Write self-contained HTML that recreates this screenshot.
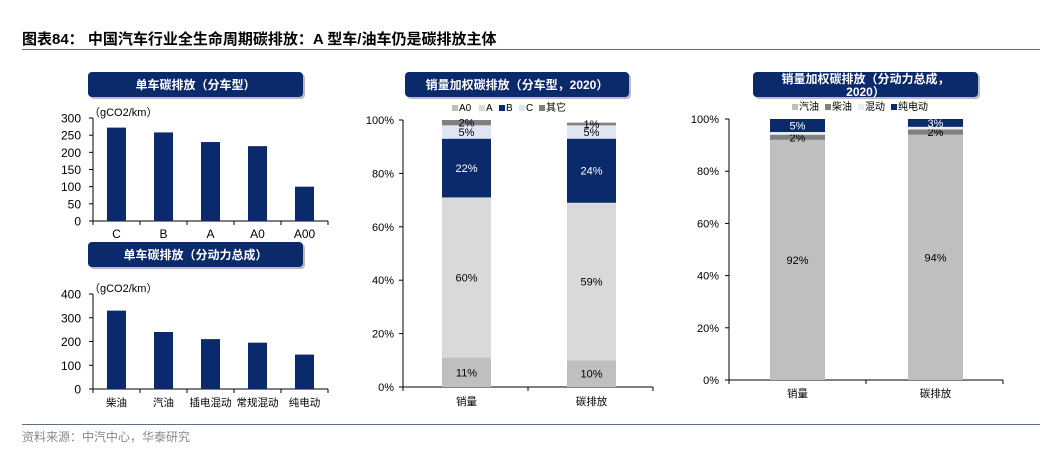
<!DOCTYPE html>
<html><head><meta charset="utf-8">
<style>
html,body{margin:0;padding:0;background:#fff;}
svg{display:block;font-family:"Liberation Sans","Noto Sans CJK SC",sans-serif;}
</style></head>
<body>
<svg id="s" width="1048" height="461" viewBox="0 0 1048 461" xmlns="http://www.w3.org/2000/svg">
<text x="22" y="44" font-size="15" font-weight="bold" fill="#000">图表84：  中国汽车行业全生命周期碳排放：A 型车/油车仍是碳排放主体</text>
<line x1="22" y1="49.5" x2="1040" y2="49.5" stroke="#5a7184" stroke-width="1"/>
<line x1="22" y1="424.5" x2="1040" y2="424.5" stroke="#5a7184" stroke-width="1"/>
<text x="22" y="441" font-size="12" fill="#888">资料来源：中汽中心，华泰研究</text>
<g id="g"></g>
</svg>
<script>
// Chart 1: per-vehicle emission by class
const c1Cats = ["C","B","A","A0","A00"];
const c1Vals = [272,258,230,218,100];
const c1Ticks = [0,50,100,150,200,250,300];
// Chart 2: per-vehicle emission by powertrain
const c2Cats = ["柴油","汽油","插电混动","常规混动","纯电动"];
const c2Vals = [330,240,210,195,145];
const c2Ticks = [0,100,200,300,400];
// Chart 3: stacked by class
const c3Cats = ["销量","碳排放"];
const c3Series = ["A0","A","B","C","其它"];
const c3A0 = [11,10];
const c3A = [60,59];
const c3B = [22,24];
const c3C = [5,5];
const c3Other = [2,1];
// Chart 4: stacked by powertrain
const c4Cats = ["销量","碳排放"];
const c4Series = ["汽油","柴油","混动","纯电动"];
const c4Gas = [92,94];
const c4Diesel = [2,2];
const c4Hybrid = [1,1];
const c4EV = [5,3];
const pctTicks = [0,20,40,60,80,100];

const NS="http://www.w3.org/2000/svg";
const G=document.getElementById('g');
function el(tag,attrs,parent,text){const e=document.createElementNS(NS,tag);for(const k in attrs)e.setAttribute(k,attrs[k]);if(text!==undefined)e.textContent=text;(parent||G).appendChild(e);return e;}

function titleBox(x1,x2,y1,y2,lines,name){
  const g=el('g',{});
  
  
  el('rect',{x:x1+2,y:y1+2,width:x2-x1,height:y2-y1,rx:4,fill:'#b8bcc4'},g);
  el('rect',{x:x1,y:y1,width:x2-x1,height:y2-y1,rx:4,fill:'#0b2a6b'},g);
  const cx=(x1+x2)/2;
  if(lines.length===1){el('text',{x:cx,y:(y1+y2)/2+4.5,'font-size':12,'font-weight':'bold',fill:'#fff','text-anchor':'middle'},g,lines[0]);}
  else{el('text',{x:cx,y:y1+11,'font-size':12,'font-weight':'bold',fill:'#fff','text-anchor':'middle'},g,lines[0]);
       el('text',{x:cx,y:y1+24,'font-size':12,'font-weight':'bold',fill:'#fff','text-anchor':'middle'},g,lines[1]);}
}

function barChart(cats,vals,ticks,x0,x1,yTop,yBot,vmax,bw,labY,name){
  const g=el('g',{});
  
  
  const ys=v=>yBot-(v/vmax)*(yBot-yTop);
  const step=(x1-x0)/cats.length;
  el('line',{x1:x0,y1:yTop,x2:x0,y2:yBot,stroke:'#000','stroke-width':1},g);
  el('line',{x1:x0,y1:yBot,x2:x1,y2:yBot,stroke:'#000','stroke-width':1},g);
  ticks.forEach(t=>{
    const y=ys(t);
    el('line',{x1:x0-4,y1:y,x2:x0,y2:y,stroke:'#000'},g);
    const tl=el('text',{x:x0-12,y:y+4.5,'font-size':12,'text-anchor':'end',fill:'#000'},g,String(t));
    
    
  });
  for(let i=0;i<=cats.length;i++){el('line',{x1:x0+i*step,y1:yBot,x2:x0+i*step,y2:yBot+4,stroke:'#000'},g);}
  const u=el('text',{x:x0-4,y:yTop-2,'font-size':11,fill:'#000'},g,'（gCO2/km）');
  
  
  cats.forEach((c,i)=>{
    const cx=x0+step*(i+0.5);
    const r=el('rect',{x:cx-bw/2,y:ys(vals[i]),width:bw,height:yBot-ys(vals[i]),fill:'#0b2a6b'},g);
    
    
    const t=el('text',{x:cx,y:labY,'font-size':c.length>1&&/[^\x00-\x7f]/.test(c)?10.5:12,'text-anchor':'middle',fill:'#000'},g,c);
    
    
  });
}

function stacked(cats,series,data,colors,txtColors,x0,x1,yTop,yBot,barX,bw,ylabX,labY,name){
  const g=el('g',{});
  
  
  const ys=v=>yBot-(v/100)*(yBot-yTop);
  pctTicks.forEach(t=>{
    const y=ys(t);
    el('line',{x1:x0-4,y1:y,x2:x0,y2:y,stroke:'#000'},g);
    const tl=el('text',{x:ylabX,y:y+4,'font-size':11,'text-anchor':'end',fill:'#000'},g,t+'%');
    
    
  });
  el('line',{x1:x0,y1:yTop,x2:x0,y2:yBot,stroke:'#000'},g);
  el('line',{x1:x0,y1:yBot,x2:x1,y2:yBot,stroke:'#000'},g);
  [x0,(x0+x1)/2,x1].forEach(x=>el('line',{x1:x,y1:yBot,x2:x,y2:yBot+4,stroke:'#000'},g));
  cats.forEach((c,i)=>{
    let cum=0;
    const bx=barX[i];
    data.forEach((arr,s)=>{
      const v=arr[i];
      const y1=ys(cum+v), y2=ys(cum);
      const r=el('rect',{x:bx,y:y1,width:bw,height:y2-y1,fill:colors[s]},g);
      
      
      if(txtColors[s]){
        const t=el('text',{x:bx+bw/2,y:(y1+y2)/2+4,'font-size':11,'text-anchor':'middle',fill:txtColors[s]},g,v+'%');
        
        
      }
      cum+=v;
    });
    const xl=el('text',{x:bx+bw/2,y:labY,'font-size':10.5,'text-anchor':'middle',fill:'#000'},g,c);
    
    
  });
}

function legend(x,y,series,colors,name){
  const g=el('g',{});
  
  
  let cx=x;
  series.forEach((s,i)=>{
    const r=el('rect',{x:cx,y:y-6,width:6,height:6,fill:colors[i]},g);
    
    
    const t=el('text',{x:cx+7,y:y,'font-size':10,fill:'#000'},g,s);
    
    
    cx+=7+(/[^\x00-\x7f]/.test(s)?s.length*10:s.length*7)+6;
  });
}

titleBox(88,303,72,97,['单车碳排放（分车型）'],'title-by-class');
barChart(c1Cats,c1Vals,c1Ticks,93,328,118,221,300,19,238,'chart-by-class');
titleBox(88,303,242,267,['单车碳排放（分动力总成）'],'title-by-powertrain');
barChart(c2Cats,c2Vals,c2Ticks,93,328,294,389,400,19,406,'chart-by-powertrain');

const col3=['#bfbfbf','#d9d9d9','#0b2a6b','#dde6f2','#808080'];
titleBox(405,629,72,97,['销量加权碳排放（分车型，2020）'],'title-weighted-class');
legend(452,111,c3Series,col3,'legend-weighted-class');
stacked(c3Cats,c3Series,[c3A0,c3A,c3B,c3C,c3Other],col3,['#000','#000','#fff','#000','#000'],403,653,120,387,[442,567],49,394,405,'chart-weighted-class');

const col4=['#bfbfbf','#808080','#e8eef8','#0b2a6b'];
titleBox(753,978,72,97,['销量加权碳排放（分动力总成，','2020）'],'title-weighted-powertrain');
legend(792,110,c4Series,col4,'legend-weighted-powertrain');
stacked(c4Cats,c4Series,[c4Gas,c4Diesel,c4Hybrid,c4EV],col4,['#000','#000',null,'#fff'],729,1003,119,380,[770,908],55,719,397,'chart-weighted-powertrain');
</script>
</body></html>
